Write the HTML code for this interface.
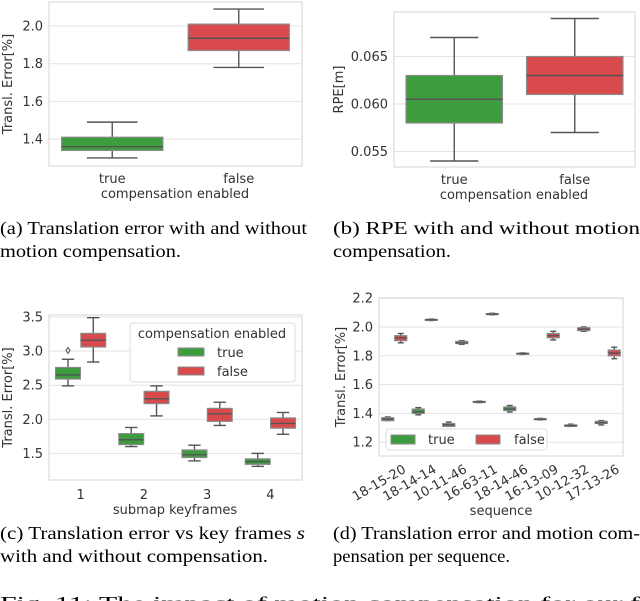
<!DOCTYPE html>
<html><head><meta charset="utf-8"><style>
body{margin:0;background:#fff;}
svg{display:block;}
.tk{font-family:"DejaVu Sans",sans-serif;font-size:13px;fill:#333;}
.cap{font-family:"Liberation Serif",serif;font-size:17.5px;fill:#000;}
</style></head><body>
<svg id="fig" width="640" height="601" viewBox="0 0 640 601" xmlns="http://www.w3.org/2000/svg">
<g id="layer"></g>
<text class="cap" x="0" y="234" textLength="307" lengthAdjust="spacingAndGlyphs">(a) Translation error with and without</text>
<text class="cap" x="0" y="257" textLength="181" lengthAdjust="spacingAndGlyphs">motion compensation.</text>
<text class="cap" x="333" y="234" textLength="307" lengthAdjust="spacingAndGlyphs">(b) RPE with and without motion</text>
<text class="cap" x="333" y="257" textLength="118" lengthAdjust="spacingAndGlyphs">compensation.</text>
<text class="cap" x="0" y="539" textLength="305" lengthAdjust="spacingAndGlyphs">(c) Translation error vs key frames <tspan font-style="italic">s</tspan></text>
<text class="cap" x="0" y="562" textLength="268" lengthAdjust="spacingAndGlyphs">with and without compensation.</text>
<text class="cap" x="333" y="539" textLength="307" lengthAdjust="spacingAndGlyphs">(d) Translation error and motion com-</text>
<text class="cap" x="333" y="562" textLength="177" lengthAdjust="spacingAndGlyphs">pensation per sequence.</text>
<text class="cap" x="0" y="609" textLength="640" lengthAdjust="spacingAndGlyphs">Fig. 11: The impact of motion compensation for our f</text>
</svg>
<script>
// Chart A data
const aCats = ["true","false"];
const aLow = [1.30,1.78], aQ1 = [1.34,1.87], aMed = [1.36,1.935], aQ3 = [1.41,2.01], aHigh = [1.49,2.09];
const aTicks = [1.4,1.6,1.8,2.0];
// Chart B data
const bCats = ["true","false"];
const bLow = [0.054,0.057], bQ1 = [0.058,0.061], bMed = [0.0605,0.063], bQ3 = [0.063,0.065], bHigh = [0.067,0.069];
const bTicks = [0.055,0.060,0.065];
// Chart C data
const cCats = ["1","2","3","4"];
const cTrueLow = [2.49,1.60,1.39,1.31], cTrueQ1 = [2.59,1.63,1.44,1.34], cTrueMed = [2.65,1.70,1.48,1.38], cTrueQ3 = [2.76,1.79,1.55,1.42], cTrueHigh = [2.88,1.88,1.62,1.50];
const cFalseLow = [2.84,2.05,1.91,1.78], cFalseQ1 = [3.06,2.23,1.97,1.87], cFalseMed = [3.16,2.30,2.08,1.94], cFalseQ3 = [3.26,2.41,2.16,2.02], cFalseHigh = [3.49,2.49,2.25,2.10];
const cOutliers = [3.01];
const cTicks = [1.5,2.0,2.5,3.0,3.5];
// Chart D data
const dCats = ["18-15-20","18-14-14","10-11-46","16-63-11","18-14-46","16-13-09","10-12-32","17-13-26"];
const dTrueLow = [1.35,1.39,1.31,1.475,1.41,1.355,1.31,1.32], dTrueQ1 = [1.35,1.40,1.31,1.477,1.42,1.357,1.31,1.33], dTrueMed = [1.36,1.41,1.32,1.48,1.43,1.36,1.315,1.335], dTrueQ3 = [1.37,1.43,1.33,1.483,1.445,1.363,1.32,1.345], dTrueHigh = [1.375,1.44,1.34,1.485,1.455,1.365,1.325,1.35];
const dFalseLow = [1.89,2.045,1.88,2.085,1.81,1.91,1.97,1.78], dFalseQ1 = [1.905,2.047,1.885,2.087,1.812,1.925,1.975,1.80], dFalseMed = [1.925,2.05,1.89,2.09,1.815,1.94,1.985,1.82], dFalseQ3 = [1.94,2.053,1.90,2.093,1.818,1.955,1.995,1.84], dFalseHigh = [1.955,2.055,1.905,2.095,1.82,1.97,2.00,1.86];
const dTicks = [1.2,1.4,1.6,1.8,2.0,2.2];

const NS="http://www.w3.org/2000/svg";
const layer=document.getElementById('layer');
const GREEN="#3d9c3d", RED="#d84a4c", EDGE="#555555";
function mk(tag,attrs,parent){const e=document.createElementNS(NS,tag);for(const k in attrs)e.setAttribute(k,attrs[k]);(parent||layer).appendChild(e);return e;}
function txt(s,attrs,parent){const e=mk('text',attrs,parent);e.textContent=s;return e;}

function frame(p,ticks,fmt,name,yTitle,titleX){
  const g=mk('g',{});
  
  
  ticks.forEach(t=>{const y=p.y(t);
    const l=mk('line',{x1:p.x0,x2:p.x1,y1:y,y2:y,stroke:"#e3e3e3","stroke-width":1},g);
    
    
    const tl=txt(fmt(t),{class:'tk',x:p.x0-6,y:y+4.5,'text-anchor':'end'},g);
    
    
  });
  const r=mk('rect',{x:p.x0,y:p.y0,width:p.x1-p.x0,height:p.y1-p.y0,fill:"none",stroke:"#dcdcdc","stroke-width":1.2},g);
  
  
  const cy=(p.y0+p.y1)/2;
  const t=txt(yTitle,{class:'tk',x:titleX,y:cy,'text-anchor':'middle',transform:`rotate(-90 ${titleX} ${cy})`,'font-size':'14px'},g);
  
  
  return g;
}
function box(g,cx,w,lo,q1,md,q3,hi,y,fill,name){
  const b=mk('g',{},g);
  
  
  mk('line',{x1:cx,x2:cx,y1:y(hi),y2:y(q3),stroke:EDGE,"stroke-width":1.4},b);
  mk('line',{x1:cx,x2:cx,y1:y(q1),y2:y(lo),stroke:EDGE,"stroke-width":1.4},b);
  mk('line',{x1:cx-w/4,x2:cx+w/4,y1:y(hi),y2:y(hi),stroke:EDGE,"stroke-width":1.4},b);
  mk('line',{x1:cx-w/4,x2:cx+w/4,y1:y(lo),y2:y(lo),stroke:EDGE,"stroke-width":1.4},b);
  mk('rect',{x:cx-w/2,y:y(q3),width:w,height:Math.max(1,y(q1)-y(q3)),fill:fill,stroke:"#8a8a8a","stroke-width":1.2},b);
  mk('line',{x1:cx-w/2,x2:cx+w/2,y1:y(md),y2:y(md),stroke:EDGE,"stroke-width":1.4},b);
}

// Chart A
(function(){
  const p={x0:49,x1:302,y0:2,y1:166};p.y=v=>26+(2.0-v)*188.5;
  const g=frame(p,aTicks,v=>v.toFixed(1),'chart-a','Transl. Error[%]',12);
  const band=(p.x1-p.x0)/aCats.length;
  aCats.forEach((c,i)=>{const cx=p.x0+band*(i+0.5);
    box(g,cx,band*0.8,aLow[i],aQ1[i],aMed[i],aQ3[i],aHigh[i],p.y,i==0?GREEN:RED,'box-'+c);
    const l=txt(c,{class:'tk',x:cx,y:183,'text-anchor':'middle'},g);
    
    
  });
  const xt=txt('compensation enabled',{class:'tk',x:175,y:198,'text-anchor':'middle','font-size':'14px'},g);
  
  
})();
// Chart B
(function(){
  const p={x0:394,x1:635,y0:12,y1:167};p.y=v=>104+(0.060-v)*9500;
  const g=frame(p,bTicks,v=>v.toFixed(3),'chart-b','RPE[m]',343);
  const band=(p.x1-p.x0)/bCats.length;
  bCats.forEach((c,i)=>{const cx=p.x0+band*(i+0.5);
    box(g,cx,band*0.8,bLow[i],bQ1[i],bMed[i],bQ3[i],bHigh[i],p.y,i==0?GREEN:RED,'box-'+c);
    const l=txt(c,{class:'tk',x:cx,y:184,'text-anchor':'middle'},g);
    
    
  });
  const xt=txt('compensation enabled',{class:'tk',x:514,y:199,'text-anchor':'middle','font-size':'14px'},g);
  
  
})();
// Chart C
(function(){
  const p={x0:49,x1:302,y0:315,y1:480};p.y=v=>317+(3.5-v)*68.2;
  const g=frame(p,cTicks,v=>v.toFixed(1),'chart-c','Transl. Error[%]',12);
  const band=(p.x1-p.x0)/cCats.length, w=band*0.4;
  cCats.forEach((c,i)=>{const cx=p.x0+band*(i+0.5);
    box(g,cx-w/2,w*0.98,cTrueLow[i],cTrueQ1[i],cTrueMed[i],cTrueQ3[i],cTrueHigh[i],p.y,GREEN,'box-true-'+c);
    box(g,cx+w/2,w*0.98,cFalseLow[i],cFalseQ1[i],cFalseMed[i],cFalseQ3[i],cFalseHigh[i],p.y,RED,'box-false-'+c);
    const l=txt(c,{class:'tk',x:cx,y:499,'text-anchor':'middle'},g);
    
    
  });
  cOutliers.forEach(v=>{const o=mk('path',{d:`M${p.x0+band*0.5-w/2} ${p.y(v)-3} l2 3 l-2 3 l-2 -3z`,fill:"none",stroke:EDGE,"stroke-width":1},g);
    
    });
  const xt=txt('submap keyframes',{class:'tk',x:175,y:514,'text-anchor':'middle','font-size':'14px'},g);
  
  
  const lg=mk('g',{},g);
  
  
  mk('rect',{x:130,y:323,width:165,height:59,fill:"#fff","fill-opacity":0.9,stroke:"#ddd",rx:3},lg);
  txt('compensation enabled',{class:'tk',x:212,y:338,'text-anchor':'middle','font-size':'13.5px'},lg);
  mk('rect',{x:178,y:348,width:26,height:8,fill:GREEN,stroke:"#8a8a8a"},lg);
  mk('rect',{x:178,y:367,width:26,height:8,fill:RED,stroke:"#8a8a8a"},lg);
  txt('true',{class:'tk',x:217,y:357},lg);
  txt('false',{class:'tk',x:217,y:376},lg);
})();
// Chart D
(function(){
  const p={x0:379,x1:623,y0:298,y1:456};p.y=v=>327+(2.0-v)*144;
  const g=frame(p,dTicks,v=>v.toFixed(1),'chart-d','Transl. Error[%]',345);
  const band=(p.x1-p.x0)/dCats.length, w=12;
  dCats.forEach((c,i)=>{const cx=p.x0+band*(i+0.5);
    box(g,cx-6.5,w,dTrueLow[i],dTrueQ1[i],dTrueMed[i],dTrueQ3[i],dTrueHigh[i],p.y,GREEN,'box-true-'+c);
    box(g,cx+6.5,w,dFalseLow[i],dFalseQ1[i],dFalseMed[i],dFalseQ3[i],dFalseHigh[i],p.y,RED,'box-false-'+c);
    const tx=cx+8, ty=464;
    const l=txt(c,{class:'tk',x:tx,y:ty+9,'text-anchor':'end',transform:`rotate(-30 ${tx} ${ty})`},g);
    
    
  });
  const xt=txt('sequence',{class:'tk',x:501,y:515,'text-anchor':'middle','font-size':'14px'},g);
  
  
  const lg=mk('g',{},g);
  
  
  mk('rect',{x:386,y:429,width:161,height:21,fill:"#fff","fill-opacity":0.9,stroke:"#ddd",rx:3},lg);
  mk('rect',{x:391,y:435,width:24,height:9,fill:GREEN,stroke:"#8a8a8a"},lg);
  mk('rect',{x:476,y:435,width:24,height:9,fill:RED,stroke:"#8a8a8a"},lg);
  txt('true',{class:'tk',x:428,y:444},lg);
  txt('false',{class:'tk',x:514,y:444},lg);
})();
</script>
</body></html>
